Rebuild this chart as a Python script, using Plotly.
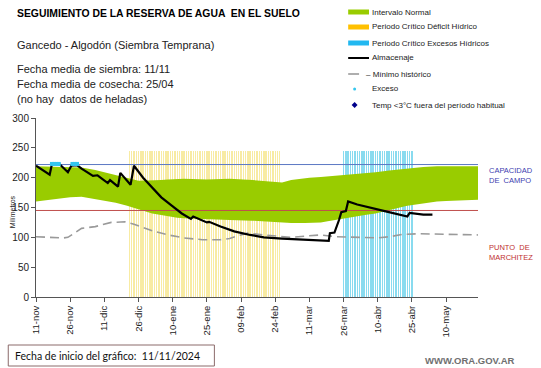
import pandas as pd
import plotly.graph_objects as go

START = pd.Timestamp("2024-11-11")

# ---------------- data ----------------
# Intervalo normal (days since 11-nov, lower, upper)
band_days  = [0, 8, 15, 20, 26, 29, 33, 35, 40, 41, 45, 46, 51, 55, 58, 62, 65, 75, 80, 85, 95, 103, 107, 108, 112, 118, 120, 125, 128, 134, 135, 142, 145, 149, 155, 162, 163, 170, 176, 180, 185, 194]
band_lower = [160, 164, 167, 168, 164, 162, 160, 158, 153, 152, 147, 146, 140, 137, 135, 133, 132, 130, 130, 129, 128, 126, 125, 125, 124, 124, 124, 125, 127, 131, 132, 136, 138, 140, 145, 152, 153, 157, 160, 161, 162, 163]
band_upper = [219, 218, 218, 217, 213, 210, 206, 204, 199, 198, 195, 195, 195, 196, 197, 198, 198, 197, 197, 198, 196, 194, 192, 192, 196, 199, 200, 201, 202, 204, 204, 207, 208, 209, 212, 215, 215, 218, 219, 219, 219, 219]

# Almacenaje
alm_days = [0, 6, 7, 10.5, 14, 15.5, 18, 20, 25, 27, 31.5, 32.5, 36, 37, 41.5, 43, 47, 51, 55, 60, 64, 68, 69, 75, 76, 81, 87, 94, 100, 108, 115, 120, 128.5, 129, 131, 133, 134, 136, 137, 141, 147, 154, 163, 164, 170, 174]
alm_vals = [220, 205, 223, 222, 209, 220, 221, 215, 203, 204, 191, 196, 185, 208, 188, 220, 200, 183, 167, 152, 140, 131, 135, 125, 126, 118, 110, 104, 100, 98, 97, 96, 94, 107, 108, 129, 142, 144, 160, 155, 149, 143, 135, 141, 138, 138]

# Mínimo histórico
min_days = [0, 12, 14, 20, 26, 33, 39, 43, 51, 58, 65, 73, 81, 85, 89, 93, 100, 105, 112, 118, 125, 132, 140, 150, 155, 161, 168, 176, 194]
min_vals = [101, 99, 100, 115, 118, 125, 126, 122, 111, 104, 99, 96, 96, 98, 103, 107, 104, 102, 100, 102, 104, 101, 100, 99, 101, 105, 106, 105, 104]

# Exceso
exc_days = [7, 8, 9, 10, 16, 17, 18]
exc_vals = [223, 223, 223, 223, 223, 223, 223]

capacidad_campo = 222
punto_marchitez = 145
periodo_height = 245
deficit_period = ("2024-12-22", "2025-02-26")
exceso_period = ("2025-03-26", "2025-04-25")

tick_labels = ["11-nov", "26-nov", "11-dic", "26-dic", "10-ene", "25-ene", "09-feb",
               "24-feb", "11-mar", "26-mar", "10-abr", "25-abr", "10-may"]
x_end_day = 194


def d(days):
    return [START + pd.Timedelta(days=float(v)) for v in days]


fig = go.Figure()

# normal band
fig.add_trace(go.Scatter(x=d(band_days), y=band_lower, mode="lines",
                         line=dict(width=0, color="#99CC00"), hoverinfo="skip"))
fig.add_trace(go.Scatter(x=d(band_days), y=band_upper, mode="lines", fill="tonexty",
                         fillcolor="#99CC00", line=dict(width=0, color="#99CC00")))

# critical periods as bars
DAY_MS = 86400000
for (a, b), col in [(deficit_period, "rgba(240,210,50,0.45)"), (exceso_period, "rgba(40,190,225,0.55)")]:
    xs = pd.date_range(a, b, freq="D")
    fig.add_trace(go.Bar(x=xs, y=[periodo_height] * len(xs), width=DAY_MS * 0.62,
                         marker=dict(color=col, line=dict(width=0))))

# reference lines
x_full = d([0, x_end_day])
fig.add_trace(go.Scatter(x=x_full, y=[capacidad_campo] * 2, mode="lines",
                         line=dict(color="#5B78C4", width=1)))
fig.add_trace(go.Scatter(x=x_full, y=[punto_marchitez] * 2, mode="lines",
                         line=dict(color="#C0504D", width=1)))

# minimum
fig.add_trace(go.Scatter(x=d(min_days), y=min_vals, mode="lines",
                         line=dict(color="#9A9A9A", width=1.6, dash="9px,5px")))
# storage
fig.add_trace(go.Scatter(x=d(alm_days), y=alm_vals, mode="lines",
                         line=dict(color="#000000", width=2.2)))
# excess markers
fig.add_trace(go.Scatter(x=d(exc_days), y=exc_vals, mode="markers",
                         marker=dict(color="#33C6EE", size=4, symbol="square")))

L, R, T, B = 32, 478, 118, 297
W, H = R - L, B - T


def px(x):
    return (x - L) / W


def py(y):
    return (B - y) / H


ann = []
shapes = []


def text(x, y, s, size, color="#111111", family="Liberation Sans", xanchor="left", bold=False, angle=0):
    ann.append(dict(x=px(x), y=py(y), xref="paper", yref="paper", text=("<b>%s</b>" % s) if bold else s,
                    showarrow=False, xanchor=xanchor, yanchor="middle", textangle=angle,
                    font=dict(size=size, color=color, family=family)))


text(11, 14, "SEGUIMIENTO DE LA RESERVA DE AGUA  EN EL SUELO", 10.4, "#000000", bold=True)
text(11, 45, "Gancedo - Algodón (Siembra Temprana)", 11, "#222222")
text(11, 69, "Fecha media de siembra: 11/11", 11, "#222222")
text(11, 84, "Fecha media de cosecha: 25/04", 11, "#222222")
text(11, 99, "(no hay  datos de heladas)", 11, "#222222")

# legend (manual)
leg_y = [12, 27, 43, 58, 74, 89, 105]
leg_txt = ["Intervalo Normal", "Periodo Crítico Déficit Hídrico", "Periodo Crítico Excesos Hídricos",
           "Almacenaje", "– Mínimo histórico", "Exceso", "Temp <3°C fuera del período habitual"]
for i, (yy, t) in enumerate(zip(leg_y, leg_txt)):
    xt = 363 if i == 4 else 369
    text(xt, yy, t, 8, "#222222")
for yy, col in zip(leg_y[:3], ["#99CC00", "#FFC000", "#22B8F0"]):
    shapes.append(dict(type="rect", xref="paper", yref="paper", x0=px(347), x1=px(368),
                       y0=py(yy + 2.5), y1=py(yy - 2.5), fillcolor=col, line=dict(width=0)))
shapes.append(dict(type="line", xref="paper", yref="paper", x0=px(347), x1=px(368),
                   y0=py(leg_y[3]), y1=py(leg_y[3]), line=dict(color="#000000", width=2)))
shapes.append(dict(type="line", xref="paper", yref="paper", x0=px(347), x1=px(358),
                   y0=py(leg_y[4]), y1=py(leg_y[4]), line=dict(color="#9A9A9A", width=1.6)))
shapes.append(dict(type="circle", xref="paper", yref="paper", x0=px(352), x1=px(355),
                   y0=py(leg_y[5] + 1.5), y1=py(leg_y[5] - 1.5), fillcolor="#33C6EE", line=dict(width=0)))
shapes.append(dict(type="path", xref="paper", yref="paper",
                   path="M %f,%f L %f,%f L %f,%f L %f,%f Z" % (px(353.5), py(leg_y[6] - 3), px(356.5), py(leg_y[6]),
                                                              px(353.5), py(leg_y[6] + 3), px(350.5), py(leg_y[6])),
                   fillcolor="#00008B", line=dict(width=0)))

# right labels
text(487, 170, "CAPACIDAD", 7.5, "#4040B0")
text(487, 180, "DE  CAMPO", 7.5, "#4040B0")
text(487, 247, "PUNTO  DE", 7.5, "#C03030")
text(487, 257, "MARCHITEZ", 7.5, "#C03030")

# y title
text(8, 212, "Milímetros", 7, "#222222", xanchor="center", angle=-90)

# bottom box
shapes.append(dict(type="rect", xref="paper", yref="paper", x0=px(4), x1=px(212), y0=py(366), y1=py(345),
                   line=dict(color="#8B6A6A", width=1), fillcolor="rgba(0,0,0,0)"))
text(9, 356, "Fecha de inicio del gráfico:  11/11/2024", 10.5, "#111111", family="Lato")
text(423, 360, "WWW.ORA.GOV.AR", 9.5, "#707070", bold=True)

tickvals = [START + pd.Timedelta(days=15 * i) for i in range(len(tick_labels))]

fig.update_layout(
    width=541, height=368, margin=dict(l=L, r=541 - R, t=T, b=368 - B),
    paper_bgcolor="white", plot_bgcolor="white", showlegend=False,
    barmode="overlay", bargap=0,
    annotations=ann, shapes=shapes,
    font=dict(family="Liberation Sans", size=9.5, color="#222222"),
    xaxis=dict(range=[START, START + pd.Timedelta(days=x_end_day)], tickvals=tickvals, ticktext=tick_labels,
               tickangle=-90, showgrid=False, zeroline=False, showline=True, linecolor="#555555",
               ticks="outside", ticklen=4, tickcolor="#555555", tickfont=dict(size=9.5, color="#222222")),
    yaxis=dict(range=[0, 300], tickvals=[0, 50, 100, 150, 200, 250, 300], showgrid=False, zeroline=False,
               showline=True, linecolor="#555555", ticks="outside", ticklen=4, tickcolor="#555555",
               tickfont=dict(size=10, color="#222222")),
)

fig.write_html("out.html", config={"displayModeBar": False},
               post_script="document.body.style.margin='0';document.body.style.overflow='hidden';")
